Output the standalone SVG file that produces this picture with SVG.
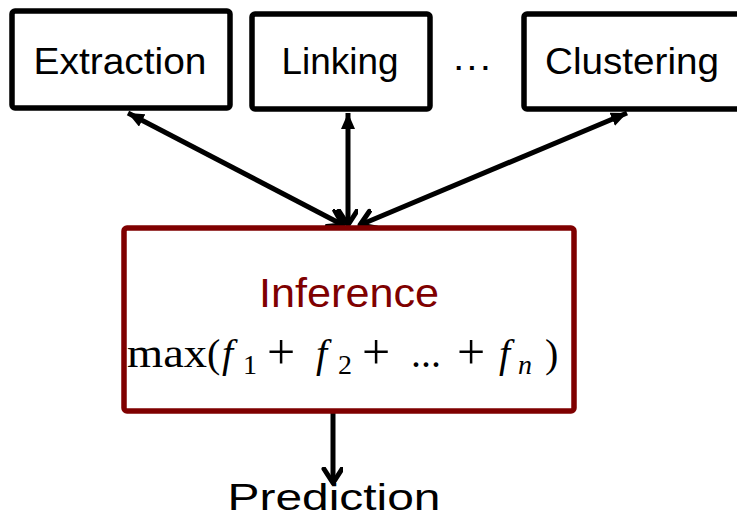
<svg xmlns="http://www.w3.org/2000/svg" width="737" height="520" viewBox="0 0 737 520">
<style>
.box{fill:#fff;stroke:#000;stroke-width:5.5}
.lbl{font-family:"Liberation Sans",Arial,sans-serif;font-size:37px;fill:#000;text-anchor:middle}
.conn{stroke:#000;stroke-width:5;fill:none}
.math{font-family:"Liberation Serif","Times New Roman",serif;font-size:40px;fill:#000}
.it{font-style:italic}
.sub{font-size:28px}
.pl{font-size:50px}
</style>
<defs>
<marker id="tri" markerUnits="userSpaceOnUse" markerWidth="24" markerHeight="24" refX="16" refY="7" orient="auto-start-reverse" viewBox="0 0 24 24">
<path d="M0,0 L16,7 L0,14 z" fill="#000"/>
</marker>
<marker id="vee" markerUnits="userSpaceOnUse" markerWidth="30" markerHeight="30" refX="16" refY="10" orient="auto" viewBox="0 0 30 30">
<path d="M2,1 L16,10 L2,19" fill="none" stroke="#000" stroke-width="5" stroke-linecap="round" stroke-linejoin="round"/>
</marker>
</defs>
<g id="connectors">
<line class="conn" x1="128" y1="113" x2="343" y2="225" marker-start="url(#tri)" marker-end="url(#vee)"/>
<line class="conn" x1="348" y1="113" x2="348" y2="225" marker-start="url(#tri)" marker-end="url(#vee)"/>
<line class="conn" x1="627" y1="113" x2="360" y2="225" marker-start="url(#tri)" marker-end="url(#vee)"/>
<line class="conn" x1="333" y1="412" x2="333" y2="483" marker-end="url(#vee)"/>
</g>
<g id="extraction">
<rect class="box" x="12" y="11" width="218" height="97" rx="3"/>
<text class="lbl" x="120" y="74" textLength="173" lengthAdjust="spacingAndGlyphs">Extraction</text>
</g>
<g id="linking">
<rect class="box" x="252" y="14" width="178" height="95" rx="3"/>
<text class="lbl" x="340" y="74" textLength="117" lengthAdjust="spacingAndGlyphs">Linking</text>
</g>
<g id="ellipsis">
<text class="lbl" x="472" y="78" textLength="40" lengthAdjust="spacingAndGlyphs">···</text>
</g>
<g id="clustering">
<rect class="box" x="524" y="14" width="225" height="95" rx="3"/>
<text class="lbl" x="632" y="74" textLength="174" lengthAdjust="spacingAndGlyphs">Clustering</text>
</g>
<g id="inference">
<rect x="124" y="228" width="450" height="183" rx="3" fill="#fff" stroke="#7f0000" stroke-width="5.5"/>
<text x="349" y="307" font-family="'Liberation Sans',Arial,sans-serif" font-size="41" fill="#7f0000" text-anchor="middle" textLength="180" lengthAdjust="spacingAndGlyphs">Inference</text>
<text class="math" y="367"><tspan x="127" textLength="80" lengthAdjust="spacingAndGlyphs">max</tspan><tspan x="207">(</tspan><tspan class="it" x="222">f</tspan><tspan class="sub" x="243" y="374">1</tspan><tspan class="pl" x="267" y="369">+</tspan><tspan class="it" x="316" y="367">f</tspan><tspan class="sub" x="338" y="374">2</tspan><tspan class="pl" x="362" y="369">+</tspan><tspan x="411" y="367">...</tspan><tspan class="pl" x="457" y="369">+</tspan><tspan class="it" x="499" y="367">f</tspan><tspan class="it sub" x="518" y="374">n</tspan><tspan x="545" y="367">)</tspan></text>
</g>
<g id="prediction">
<text class="lbl" x="334" y="510" font-size="44" textLength="213" lengthAdjust="spacingAndGlyphs">Prediction</text>
</g>
</svg>
